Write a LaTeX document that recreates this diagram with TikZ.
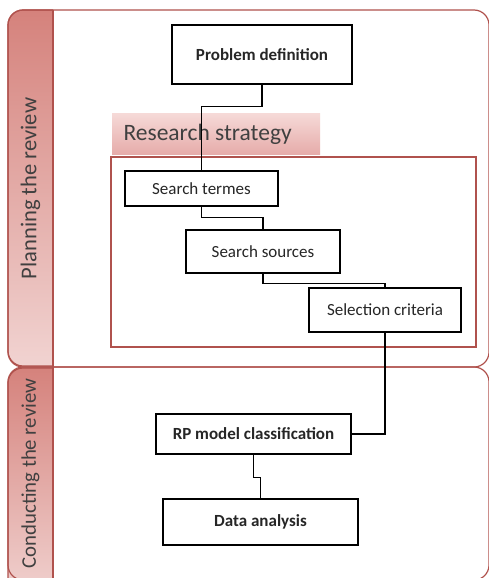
\documentclass[tikz,border=0pt]{standalone}
\usepackage{fontspec}
\setmainfont{Carlito}
\usetikzlibrary{calc}
\definecolor{laneline}{HTML}{B0524D}
\definecolor{tabtop}{HTML}{D5827C}
\definecolor{tabbot}{HTML}{F1D3D1}
\definecolor{bandtop}{HTML}{F6DAD8}
\definecolor{bandbot}{HTML}{E6ACAA}
\definecolor{lanetext}{HTML}{404040}
\definecolor{boxtext}{HTML}{262626}

\begin{document}
\begin{tikzpicture}[x=1pt,y=-1pt,
	lane/.style={draw=laneline,line width=1.2pt},
	stepbox/.style={draw=black,line width=1.4pt,fill=white,inner sep=0pt,text=boxtext,font=\fontsize{17}{20}\selectfont},
	link/.style={draw=black,line width=1.4pt}]
	\useasboundingbox (0,0) rectangle (488,578);
	\fill[white] (0,0) rectangle (488,578);
	
	% lane headers
	\begin{scope}
	\clip (0,0) rectangle (53,367);
	\shade[top color=tabtop,bottom color=tabbot,rounded corners=15pt] (8,10) rectangle (80,366);
	\draw[lane,rounded corners=15pt] (8,10) rectangle (80,366);
	\end{scope}
	\begin{scope}
	\clip (0,367) rectangle (53,580);
	\shade[top color=tabtop,bottom color=tabbot,rounded corners=15pt] (8,368) rectangle (80,600);
	\draw[lane,rounded corners=15pt] (8,368) rectangle (80,600);
	\end{scope}
	
	% lanes
	\draw[lane,rounded corners=15pt] (8,10) rectangle (489,367);
	\draw[lane,rounded corners=15pt] (8,367) rectangle (489,580);
	\draw[lane] (53,10) -- (53,580);
	
	\node[rotate=90,text=lanetext,font=\fontsize{22.6}{22}\selectfont] (plan) at (30.5,188.5) {Planning the review};
	\node[rotate=90,text=lanetext,font=\fontsize{20.8}{22}\selectfont] (cond) at (30.5,473.5) {Conducting the review};
	
	% research strategy
	\shade[top color=bandtop,bottom color=bandbot] (112,113) rectangle (320,154);
	\node[anchor=west,text=lanetext,font=\fontsize{23.5}{23}\selectfont] (strat) at (120,134) {Research strategy};
	\draw[lane] (111,157) rectangle (476,347);
	
	% steps
	\node[stepbox,minimum width=180pt,minimum height=59pt,font=\fontsize{17}{20}\selectfont\bfseries] (prob) at (262,54.5) {Problem definition};
	\node[stepbox,minimum width=153pt,minimum height=35pt] (terms) at (201.5,188.5) {Search termes};
	\node[stepbox,minimum width=154pt,minimum height=43pt] (sources) at (263,251.5) {Search sources};
	\node[stepbox,minimum width=152pt,minimum height=44pt] (crit) at (385,310) {Selection criteria};
	\node[stepbox,minimum width=195pt,minimum height=40pt,font=\fontsize{17}{20}\selectfont\bfseries] (rp) at (253.5,434) {RP model classification};
	\node[stepbox,minimum width=195pt,minimum height=46pt,font=\fontsize{17}{20}\selectfont\bfseries] (data) at (260.5,522) {Data analysis};
	
	% links
	\draw[link] (prob.south) -- ++(0,22) -| (terms.north);
	\draw[link] (terms.south) -- ++(0,11) -| (sources.north);
	\draw[link] (sources.south) -- ++(0,10) -| (crit.north);
	\draw[link] (crit.south) |- (rp.east);
	\draw[link] (rp.south) -- ++(0,23) -| (data.north);
\end{tikzpicture}
\end{document}
